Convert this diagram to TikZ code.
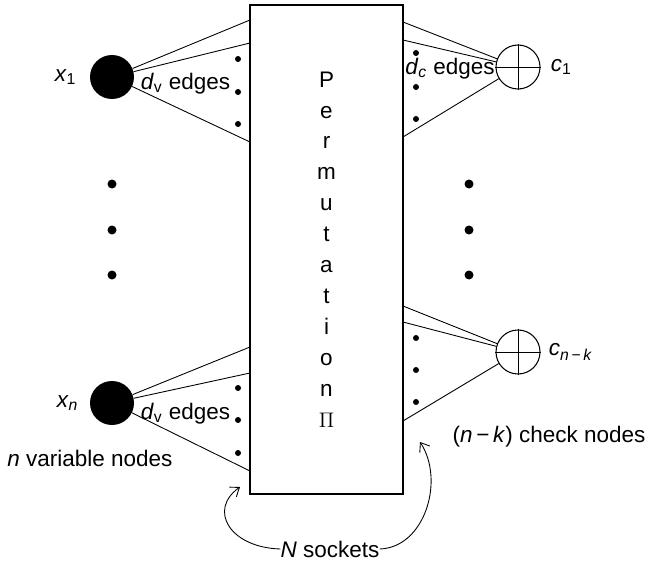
\documentclass[tikz,border=0pt]{standalone}
\usepackage{fontspec}
\setmainfont{Liberation Sans}
\usetikzlibrary{arrows.meta,positioning}

\begin{document}
\begin{tikzpicture}[
    font=\fontsize{12.8}{15}\selectfont,
    varnode/.style={circle, fill=black, minimum size=0.88cm, inner sep=0pt},
    chknode/.style={circle, draw, line width=0.6pt, minimum size=0.88cm, inner sep=0pt},
    permbox/.style={rectangle, draw, line width=0.6pt, minimum width=3.06cm, minimum height=9.78cm, align=center, font=\fontsize{12.8}{17.6}\selectfont},
    edge/.style={line width=0.5pt},
    lbl/.style={inner sep=0pt},
    sockarr/.style={-{Straight Barb[length=1.6mm,width=2.4mm]}, line width=0.5pt},
]
\useasboundingbox (0,0) rectangle (12.96,-11.26);

% === PERMUTATION ===
\node[permbox] (perm) at (6.53,-4.99) {P\\e\\r\\m\\u\\t\\a\\t\\i\\o\\n\\$\Pi$};

% === VARIABLE NODES ===
\node[varnode] (x1) at (2.24,-1.54) {};
\node[varnode] (xn) at (2.24,-8.06) {};
\node[lbl, left=0.26cm of x1] {\textit{x}\textsubscript{1}};
\node[lbl, left=0.22cm of xn] {\textit{x}\textsubscript{\textit{n}}};
\node[lbl] at (3.71,-1.68) {\textit{d}\textsubscript{v} edges};
\node[lbl] at (3.71,-8.28) {\textit{d}\textsubscript{v} edges};
\node[lbl] at (1.80,-9.16) {\textit{n} variable nodes};

% === CHECK NODES ===
\node[chknode] (c1) at (10.36,-1.34) {};
\node[chknode] (cn) at (10.36,-7.04) {};
\draw[edge] (c1.north) -- (c1.south) (c1.west) -- (c1.east);
\draw[edge] (cn.north) -- (cn.south) (cn.west) -- (cn.east);
\node[lbl, right=0.2cm of c1] {\textit{c}\textsubscript{1}};
\node[lbl, right=0.16cm of cn] {\textit{c}\textsubscript{\textit{n}\,−\,\textit{k}}};
\node[lbl] at (9.0,-1.38) {\textit{d}\textsubscript{\textit{c}} edges};
\node[lbl] at (10.98,-8.74) {(\textit{n}\,−\,\textit{k}) check nodes};

% sockets on the box
\foreach \y [count=\i] in {-0.40,-0.86,-2.84} \coordinate (va\i) at (5.0,\y);
\foreach \y [count=\i] in {-6.94,-7.46,-9.42} \coordinate (vb\i) at (5.0,\y);
\foreach \y [count=\i] in {-0.44,-0.80,-2.74} \coordinate (ca\i) at (8.06,\y);
\foreach \y [count=\i] in {-6.12,-6.44,-8.42} \coordinate (cb\i) at (8.06,\y);

% === EDGES ===
\foreach \i in {1,2,3} {
    \draw[edge] (x1) -- (va\i);
    \draw[edge] (xn) -- (vb\i);
    \draw[edge] (c1) -- (ca\i);
    \draw[edge] (cn) -- (cb\i);
}

% dots
\foreach \y in {-1.18,-1.84,-2.48,-7.76,-8.40,-9.06} \fill (4.76,\y) circle (0.06);
\foreach \y in {-1.06,-1.74,-2.38,-6.76,-7.40,-8.04} \fill (8.32,\y) circle (0.06);
\foreach \y in {-3.68,-4.60,-5.50} {
    \fill (2.24,\y) circle (0.09);
    \fill (9.38,\y) circle (0.09);
}

% === SOCKETS ===
\node[lbl] (sock) at (6.6,-10.98) {\textit{N} sockets};
\coordinate (lsock) at (4.8,-9.74);
\coordinate (rsock) at (8.4,-8.84);
\draw[sockarr] (sock.west) .. controls (4.6,-10.95) and (4.15,-10.2) .. (lsock);
\draw[sockarr] (sock.east) .. controls (8.5,-10.95) and (8.9,-9.6) .. (rsock);

\end{tikzpicture}
\end{document}
